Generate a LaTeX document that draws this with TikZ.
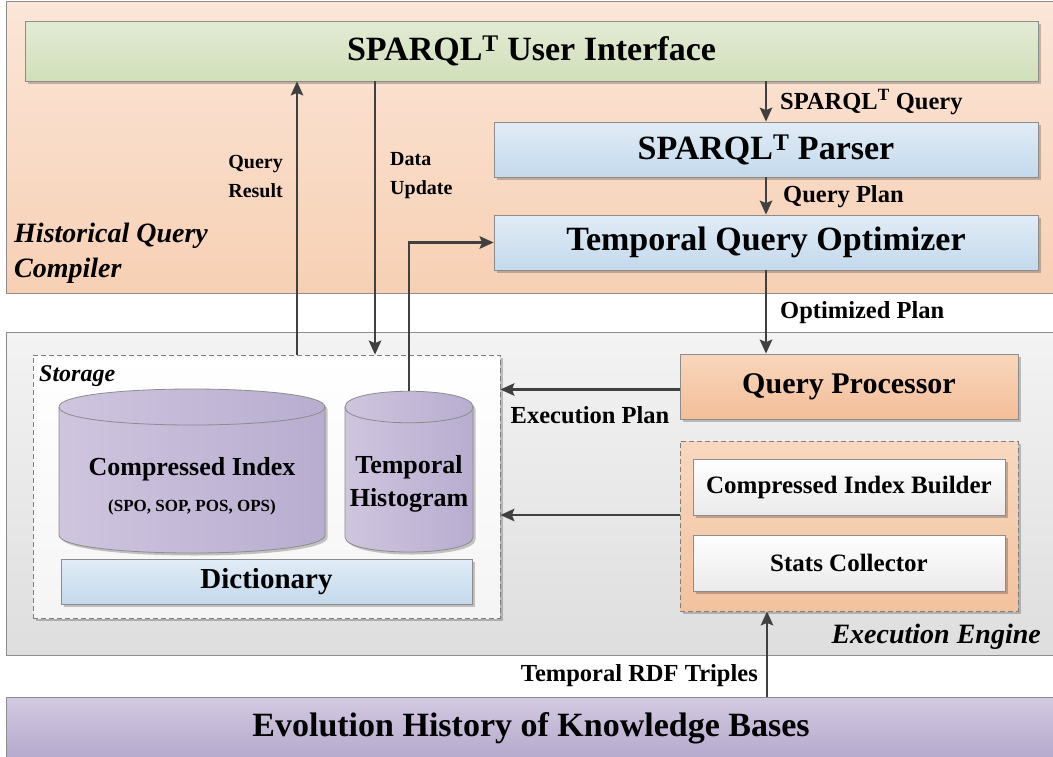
\documentclass[tikz,border=0pt]{standalone}
\usepackage{fontspec}
\setmainfont{Liberation Serif}
\usetikzlibrary{arrows.meta,shadows}

\definecolor{lineclr}{RGB}{64,64,64}
\definecolor{edgeclr}{RGB}{140,140,140}
\definecolor{pchtop}{RGB}{251,230,216}
\definecolor{pchbot}{RGB}{247,208,180}
\definecolor{gytop}{RGB}{243,243,243}
\definecolor{gybot}{RGB}{222,222,222}
\definecolor{grtop}{RGB}{227,235,213}
\definecolor{grbot}{RGB}{209,223,186}
\definecolor{bltop}{RGB}{225,236,246}
\definecolor{blbot}{RGB}{196,217,236}
\definecolor{ortop}{RGB}{248,214,188}
\definecolor{orbot}{RGB}{243,190,152}
\definecolor{ectop}{RGB}{248,216,192}
\definecolor{ecbot}{RGB}{243,194,158}
\definecolor{wtbot}{RGB}{234,234,234}
\definecolor{puleft}{RGB}{207,197,223}
\definecolor{puright}{RGB}{184,173,207}
\definecolor{evtop}{RGB}{211,202,226}
\definecolor{evbot}{RGB}{180,168,203}

\begin{document}
\begin{tikzpicture}[x=1pt,y=-1pt,
  conn/.style={draw=lineclr, line width=2.2pt},
  arr/.style={conn, -{Stealth[length=14pt,width=12.5pt,inset=2.5pt]}},
  shadowed/.style={drop shadow={shadow xshift=2.5pt, shadow yshift=-2.5pt, opacity=0.22, fill=black}},
  box/.style={draw=edgeclr, line width=0.8pt, inner sep=0pt, shadowed},
  region/.style={draw=edgeclr, line width=0.9pt, inner sep=0pt},
  dashbox/.style={draw=edgeclr!90!black, line width=0.8pt, dashed, dash pattern=on 5pt off 3pt, inner sep=0pt, shadowed},
  f34/.style={font=\fontsize{34}{40}\selectfont\bfseries},
  f30/.style={font=\fontsize{30}{36}\selectfont\bfseries},
  f29/.style={font=\fontsize{29}{34}\selectfont\bfseries},
  f26/.style={font=\fontsize{26}{32}\selectfont\bfseries},
  f25/.style={font=\fontsize{25}{30}\selectfont\bfseries},
  lbl/.style={font=\fontsize{24.5}{30}\selectfont\bfseries, inner sep=0pt},
  small/.style={font=\fontsize{20}{26}\selectfont\bfseries, inner sep=0pt},
  title/.style={font=\fontsize{28}{33}\selectfont\bfseries\itshape, inner sep=0pt},
  cyl/.style={draw=edgeclr, line width=0.8pt, left color=puleft, right color=puright}
]
\useasboundingbox (0,0) rectangle (1053,756);
\fill[white] (0,0) rectangle (1053,756);

% ---------- the two large regions ----------
\node[region, top color=pchtop, bottom color=pchbot, minimum width=1054pt, minimum height=292pt] (hqc) at (533,147) {};
\node[region, top color=gytop, bottom color=gybot, minimum width=1054pt, minimum height=323pt] (exe) at (533,493.5) {};

% ---------- historical query compiler ----------
\node[box, f34, top color=grtop, bottom color=grbot, minimum width=1013pt, minimum height=60pt] (ui) at (531.5,51) {SPARQL\textsuperscript{T} User Interface};
\node[box, f34, top color=bltop, bottom color=blbot, minimum width=544pt, minimum height=55pt] (parser) at (766,149.5) {SPARQL\textsuperscript{T} Parser};
\node[box, f34, top color=bltop, bottom color=blbot, minimum width=544pt, minimum height=55pt] (opt) at (766,242.5) {Temporal Query Optimizer};

\node[title, anchor=west, align=left] (hqcname) at (14,253) {Historical Query\\[2pt]Compiler};

% ---------- execution engine ----------
\node[box, f30, top color=ortop, bottom color=orbot, minimum width=338pt, minimum height=65pt] (qp) at (849,386.5) {Query Processor};
\node[dashbox, top color=ectop, bottom color=ecbot, minimum width=338pt, minimum height=170pt] (eng) at (849,526) {};
\node[box, f25, top color=white, bottom color=wtbot, minimum width=312pt, minimum height=56pt] (cib) at (849,487) {Compressed Index Builder};
\node[box, f25, top color=white, bottom color=wtbot, minimum width=312pt, minimum height=56pt] (sc) at (849,563) {Stats Collector};
\node[title, anchor=east] (exename) at (1041,637) {Execution Engine};

% ---------- storage ----------
\node[dashbox, top color=white, bottom color=white!96!black, minimum width=467pt, minimum height=263pt] (store) at (266.5,486.5) {};
\node[font=\fontsize{24}{28}\selectfont\bfseries\itshape, inner sep=0pt, anchor=west] (storename) at (39,376) {Storage};

% compressed index cylinder
\path[cyl, shadowed] (59,407) .. controls (59,383) and (325,383) .. (325,407)
  -- (325,535) .. controls (325,559) and (59,559) .. (59,535) -- cycle;
\draw[edgeclr, line width=0.8pt] (59,407) .. controls (59,431) and (325,431) .. (325,407);
\node[f26, align=center, inner sep=0pt] (ci) at (192,486) {Compressed Index\\[4pt]{\fontsize{17}{20}\selectfont (SPO, SOP, POS, OPS)}};

% temporal histogram cylinder
\path[cyl, shadowed] (345,407) .. controls (345,386) and (473,386) .. (473,407)
  -- (473,537) .. controls (473,557) and (345,557) .. (345,537) -- cycle;
\draw[edgeclr, line width=0.8pt] (345,407) .. controls (345,428) and (473,428) .. (473,407);
\node[minimum width=128pt, minimum height=161pt, inner sep=0pt] (hist) at (409,471.5) {};
\node[f26, align=center, inner sep=0pt] (histtxt) at (409,484) {Temporal\\[1pt]Histogram};

\node[box, f29, top color=bltop, bottom color=blbot, minimum width=411pt, minimum height=45pt] (dict) at (266.5,581.5) {Dictionary};

% ---------- knowledge bases ----------
\node[region, f34, top color=evtop, bottom color=evbot, minimum width=1054pt, minimum height=63pt] (evo) at (533,728.5) {\hspace*{-4pt}Evolution History of Knowledge Bases};

% ---------- connectors ----------
\coordinate (qrx) at (297,0);
\coordinate (dux) at (375,0);
\coordinate (rdfx) at (767,0);

\draw[arr] (ui.south -| parser.north) -- (parser.north);
\draw[arr] (parser.south) -- (opt.north);
\draw[arr] (opt.south) -- (opt.south |- qp.north);
\draw[arr] (qrx |- store.north) -- (qrx |- ui.south);
\draw[arr] (dux |- ui.south) -- (dux |- store.north);
\draw[arr] (hist.north) |- (opt.west);
\draw[arr] ([yshift=-3pt]qp.west) -- ([yshift=-3pt]qp.west -| store.east);
\draw[arr] ([yshift=11pt]eng.west) -- ([yshift=11pt]eng.west -| store.east);
\draw[arr] (rdfx |- evo.north) -- (rdfx |- eng.south);

% ---------- connector labels ----------
\node[lbl, anchor=west] (lq) at (780,102) {SPARQL\textsuperscript{T} Query};
\node[lbl, anchor=west] (lp) at (783,197) {Query Plan};
\node[lbl, anchor=west] (lo) at (780,313) {Optimized Plan};
\node[lbl] (le) at (590,415) {Execution Plan};
\node[lbl, anchor=east] (lt) at (758,676) {Temporal RDF Triples};
\node[small, anchor=east, align=right] (lr) at (283,176) {Query\\[3pt]Result};
\node[small, anchor=west, align=left] (ld) at (390,176) {Data\\[3pt]Update};
\end{tikzpicture}
\end{document}
